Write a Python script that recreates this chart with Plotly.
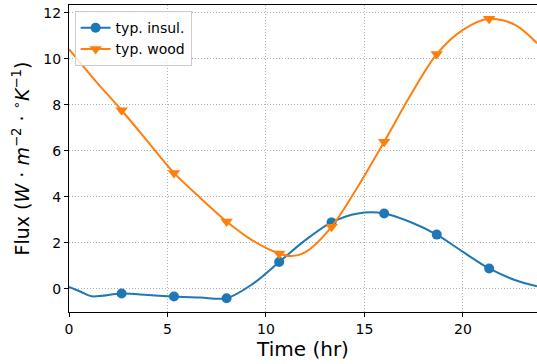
import plotly.graph_objects as go

# ---- data ----
insul_t = [0.0, 0.6, 1.15, 2.67, 4.0, 5.33, 6.67, 8.0, 9.33, 10.67, 12.0, 13.33,
           14.67, 16.0, 17.33, 18.67, 20.0, 21.33, 22.67, 23.76]
insul_v = [0.09, -0.12, -0.32, -0.2, -0.26, -0.33, -0.37, -0.40, 0.22, 1.17, 2.12, 2.89,
           3.28, 3.28, 2.91, 2.36, 1.61, 0.89, 0.38, 0.12]

wood_t = [0.0, 1.33, 2.67, 4.0, 5.33, 6.67, 8.0, 9.33, 10.67, 11.3, 12.0, 13.33,
          14.67, 16.0, 17.33, 18.67, 20.0, 21.33, 22.67, 23.76]
wood_v = [10.41, 9.05, 7.76, 6.4, 5.04, 3.95, 2.93, 2.1, 1.54, 1.43, 1.6, 2.70,
          4.45, 6.39, 8.4, 10.2, 11.25, 11.73, 11.46, 10.67]

marker_t = [2.67, 5.33, 8.0, 10.67, 13.33, 16.0, 18.67, 21.33]

names = ["typ. insul.", "typ. wood"]
x_ticks = [0, 5, 10, 15, 20]
y_ticks = [0, 2, 4, 6, 8, 10, 12]

BLUE = "#1f77b4"
ORANGE = "#ff7f0e"
FONT = "DejaVu Sans"


def pick(ts, vs, sel):
    mx, my = [], []
    for t, v in zip(ts, vs):
        if any(abs(t - s) < 1e-6 for s in sel):
            mx.append(t)
            my.append(v)
    return mx, my


fig = go.Figure()
for ts, vs, col, sym, name in [(insul_t, insul_v, BLUE, "circle", names[0]),
                               (wood_t, wood_v, ORANGE, "triangle-down", names[1])]:
    fig.add_trace(go.Scatter(x=ts, y=vs, mode="lines", line=dict(color=col, width=2, shape="spline", smoothing=0.9),
                             showlegend=False, hoverinfo="skip"))
    mx, my = pick(ts, vs, marker_t)
    msize = 10 if sym == "circle" else 11
    fig.add_trace(go.Scatter(x=mx, y=my, mode="markers",
                             marker=dict(color=col, size=msize, symbol=sym, line=dict(width=0)),
                             showlegend=False, cliponaxis=False))
    fig.add_trace(go.Scatter(x=[None], y=[None], mode="lines+markers", name=name,
                             line=dict(color=col, width=2),
                             marker=dict(color=col, size=msize, symbol=sym)))

fig.update_layout(
    width=537, height=364,
    margin=dict(l=69, r=0, t=5, b=52),
    paper_bgcolor="white", plot_bgcolor="white",
    font=dict(family=FONT, color="black", size=14),
    showlegend=True,
    legend=dict(x=0.012, y=0.98, xanchor="left", yanchor="top",
                bgcolor="rgba(255,255,255,0.8)", bordercolor="#cccccc", borderwidth=1,
                font=dict(family=FONT, size=14), itemwidth=30, tracegroupgap=0),
)
fig.update_xaxes(
    range=[0, 23.76], tickvals=x_ticks, ticks="outside", ticklen=4, tickcolor="black",
    showline=True, linecolor="black", linewidth=1, mirror=True,
    showgrid=True, gridcolor="#b0b0b0", griddash="1px,2px", gridwidth=1, zeroline=False,
    tickfont=dict(size=14),
    title=dict(text="Time (hr)", font=dict(size=20), standoff=6),
)
fig.update_yaxes(
    range=[-1.0, 12.33], tickvals=y_ticks, ticks="outside", ticklen=4, tickcolor="black",
    showline=True, linecolor="black", linewidth=1, mirror=True,
    showgrid=True, gridcolor="#b0b0b0", griddash="1px,2px", gridwidth=1, zeroline=False,
    tickfont=dict(size=14),
    title=dict(text="Flux (<i>W</i> · <i>m</i><sup>−2</sup> · <sup>∘</sup><i>K</i><sup>−1</sup>)",
               font=dict(size=19), standoff=8),
)

fig.write_html("out.html")
